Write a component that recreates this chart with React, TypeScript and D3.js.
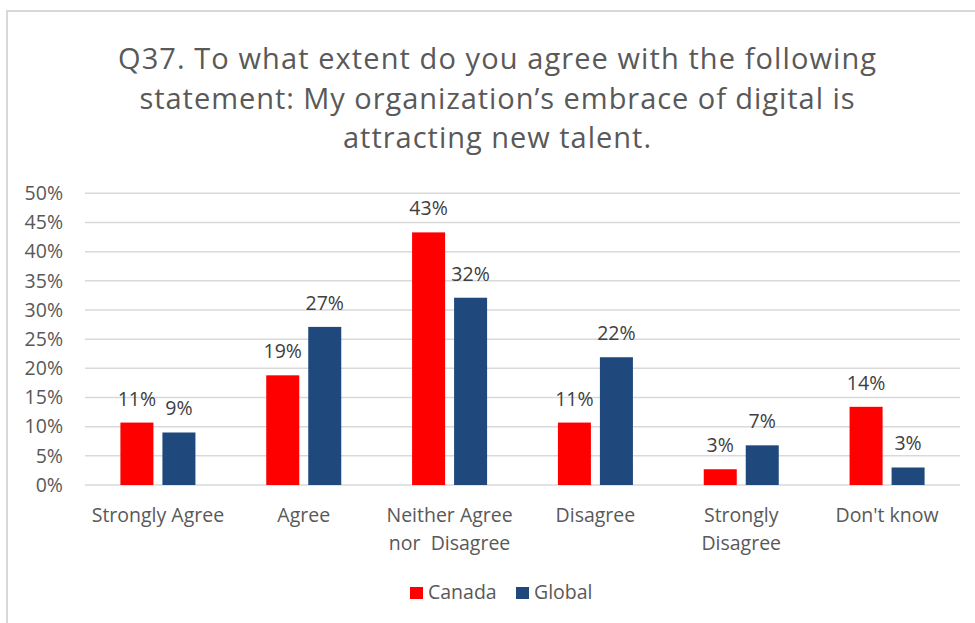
import React from "react";
import * as d3 from "d3";

const categories: string[][] = [
  ["Strongly Agree"],
  ["Agree"],
  ["Neither Agree", "nor  Disagree"],
  ["Disagree"],
  ["Strongly", "Disagree"],
  ["Don't know"],
];
const seriesNames = ["Canada", "Global"];
const canadaValues = [10.7, 18.8, 43.3, 10.7, 2.7, 13.4];
const globalValues = [9.0, 27.1, 32.1, 21.9, 6.8, 3.0];
const canadaLabels = ["11%", "19%", "43%", "11%", "3%", "14%"];
const globalLabels = ["9%", "27%", "32%", "22%", "7%", "3%"];
const yTicks = [0, 5, 10, 15, 20, 25, 30, 35, 40, 45, 50];
const titleLines = [
  "Q37. To what extent do you agree with the following",
  "statement: My organization\u2019s embrace of digital is",
  "attracting new talent.",
];
const titleWidths = [758, 715, 308];
const colors = ["#FF0000", "#1F497D"];

const W = 975;
const H = 623;
const FONT = "'Open Sans', sans-serif";
const TXT = "#595959";

export default function App() {
  const plotLeft = 85;
  const plotRight = 960;
  const y = d3.scaleLinear().domain([0, 50]).range([485, 193.3]);
  const keys = categories.map((_, i) => String(i));
  const x0 = d3.scaleBand<string>().domain(keys).range([plotLeft, plotRight]).padding(0);
  const x1 = d3
    .scaleBand<string>()
    .domain(seriesNames)
    .range([0, x0.bandwidth()])
    .paddingInner(0.214)
    .paddingOuter(0.843);
  const series = [
    { name: seriesNames[0], values: canadaValues, labels: canadaLabels, color: colors[0] },
    { name: seriesNames[1], values: globalValues, labels: globalLabels, color: colors[1] },
  ];

  return (
    <svg
      width={W}
      height={H}
      style={{ position: "absolute", left: 0, top: 0, background: "#fff" }}
      fontFamily={FONT}
    >
      <rect x={0} y={0} width={W} height={H} fill="#fff" />
      <path d={`M7,${H + 5} L7,11 L${W + 5},11`} fill="none" stroke="#d9d9d9" strokeWidth={2} />

      {titleLines.map((t, i) => (
        <text
          key={i}
          x={497}
          y={69 + i * 39.5}
          textAnchor="middle"
          fontSize={29}
          fill={TXT}
          textLength={titleWidths[i]}
          lengthAdjust="spacing"
        >
          {t}
        </text>
      ))}

      {yTicks.map((t) => (
        <line
          key={t}
          x1={plotLeft}
          x2={plotRight}
          y1={y(t)}
          y2={y(t)}
          stroke="#d9d9d9"
          strokeWidth={1.5}
        />
      ))}
      {yTicks.map((t) => (
        <text key={"l" + t} x={63} y={y(t) + 6.8} textAnchor="end" fontSize={19.5} fill={TXT}>
          {t + "%"}
        </text>
      ))}

      {series.map((s) =>
        s.values.map((v, i) => {
          const bx = (x0(String(i)) as number) + (x1(s.name) as number);
          const bw = x1.bandwidth();
          return (
            <g key={s.name + i}>
              <rect x={bx} y={y(v)} width={bw} height={y(0) - y(v)} fill={s.color} />
              <text
                x={bx + bw / 2}
                y={y(v) - 17}
                textAnchor="middle"
                fontSize={19.5}
                fill="#404040"
              >
                {s.labels[i]}
              </text>
            </g>
          );
        })
      )}

      {categories.map((lines, i) => {
        const cx = (x0(String(i)) as number) + x0.bandwidth() / 2;
        return lines.map((ln, j) => (
          <text
            key={i + "-" + j}
            x={cx}
            y={522 + j * 27.5}
            textAnchor="middle"
            fontSize={19.5}
            fill={TXT}
            style={{ whiteSpace: "pre" }}
          >
            {ln}
          </text>
        ));
      })}

      {series.map((s, i) => {
        const lx = i === 0 ? 410 : 516;
        return (
          <g key={"lg" + i}>
            <rect x={lx} y={587} width={13} height={12} fill={s.color} />
            <text x={lx + 18} y={599} fontSize={19.5} fill={TXT}>
              {s.name}
            </text>
          </g>
        );
      })}
    </svg>
  );
}
